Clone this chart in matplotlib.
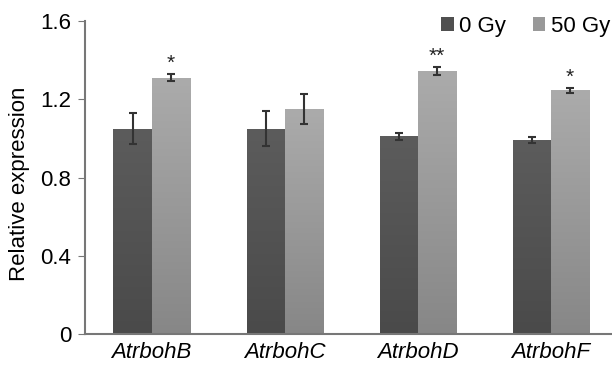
import numpy as np
import matplotlib
matplotlib.use('Agg')
import matplotlib.pyplot as plt
from matplotlib.colors import LinearSegmentedColormap

genes = ['AtrbohB', 'AtrbohC', 'AtrbohD', 'AtrbohF']
gy0 = [1.05, 1.05, 1.01, 0.99]
gy0_err = [0.08, 0.09, 0.02, 0.015]
gy50 = [1.31, 1.15, 1.345, 1.245]
gy50_err = [0.018, 0.075, 0.02, 0.015]
stars = ['*', '', '**', '*']

plt.rcParams['font.family'] = ['Liberation Sans', 'DejaVu Sans']

fig = plt.figure(figsize=(6.12, 3.65), dpi=100)
ax = fig.add_axes([85 / 612, 31 / 365, 527 / 612, 313 / 365])

x = np.arange(len(genes))
w = 0.286
grad = np.linspace(0, 1, 100).reshape(-1, 1)
cm0 = LinearSegmentedColormap.from_list('g0', ['#4a4a4a', '#5c5c5c'])
cm50 = LinearSegmentedColormap.from_list('g50', ['#878787', '#ababab'])

b0 = ax.bar(x - w / 2, gy0, w, color='#505050', label='0 Gy', zorder=2)
b50 = ax.bar(x + w / 2, gy50, w, color='#999999', label='50 Gy', zorder=2)

# gradient fill clipped to each bar
for bars, cm in ((b0, cm0), (b50, cm50)):
    for r in bars:
        x0, y0 = r.get_x(), r.get_y()
        im = ax.imshow(grad, cmap=cm, origin='lower', aspect='auto',
                       extent=[x0, x0 + r.get_width(), y0, y0 + r.get_height()],
                       zorder=2.5)
        im.set_clip_path(r)

ax.errorbar(x - w / 2, gy0, yerr=gy0_err, fmt='none', ecolor='#333333',
            elinewidth=1.5, capsize=3, capthick=1.5, zorder=3)
ax.errorbar(x + w / 2, gy50, yerr=gy50_err, fmt='none', ecolor='#333333',
            elinewidth=1.5, capsize=3, capthick=1.5, zorder=3)

for i, s in enumerate(stars):
    if s:
        ax.text(x[i] + w / 2, gy50[i] + gy50_err[i] + 0.005, s, ha='center',
                va='bottom', fontsize=15, color='#222222')

ax.set_xlim(-0.5, 3.46)
ax.set_ylim(0, 1.6)
ax.set_yticks([0, 0.4, 0.8, 1.2, 1.6])
ax.set_yticklabels(['0', '0.4', '0.8', '1.2', '1.6'])
ax.set_xticks(x)
ax.set_xticklabels(genes, fontstyle='italic')
ax.tick_params(axis='x', length=0, labelsize=16, pad=6)
ax.tick_params(axis='y', length=5, labelsize=16, color='#777777', pad=5)
ax.set_ylabel('Relative expression', fontsize=16, labelpad=8)
ax.yaxis.set_label_coords(-0.105, 0.48)
for s in ['top', 'right']:
    ax.spines[s].set_visible(False)
for s in ['left', 'bottom']:
    ax.spines[s].set_color('#777777')
    ax.spines[s].set_linewidth(1.5)

fig.legend(handles=[b0, b50], loc='upper right',
           bbox_to_anchor=(1.0, 0.963), ncol=2, frameon=False,
           fontsize=16, handlelength=0.55, handleheight=0.55, handletextpad=0.25,
           columnspacing=1.2, borderaxespad=0, borderpad=0.1)

fig.savefig('out.png', dpi=100)
